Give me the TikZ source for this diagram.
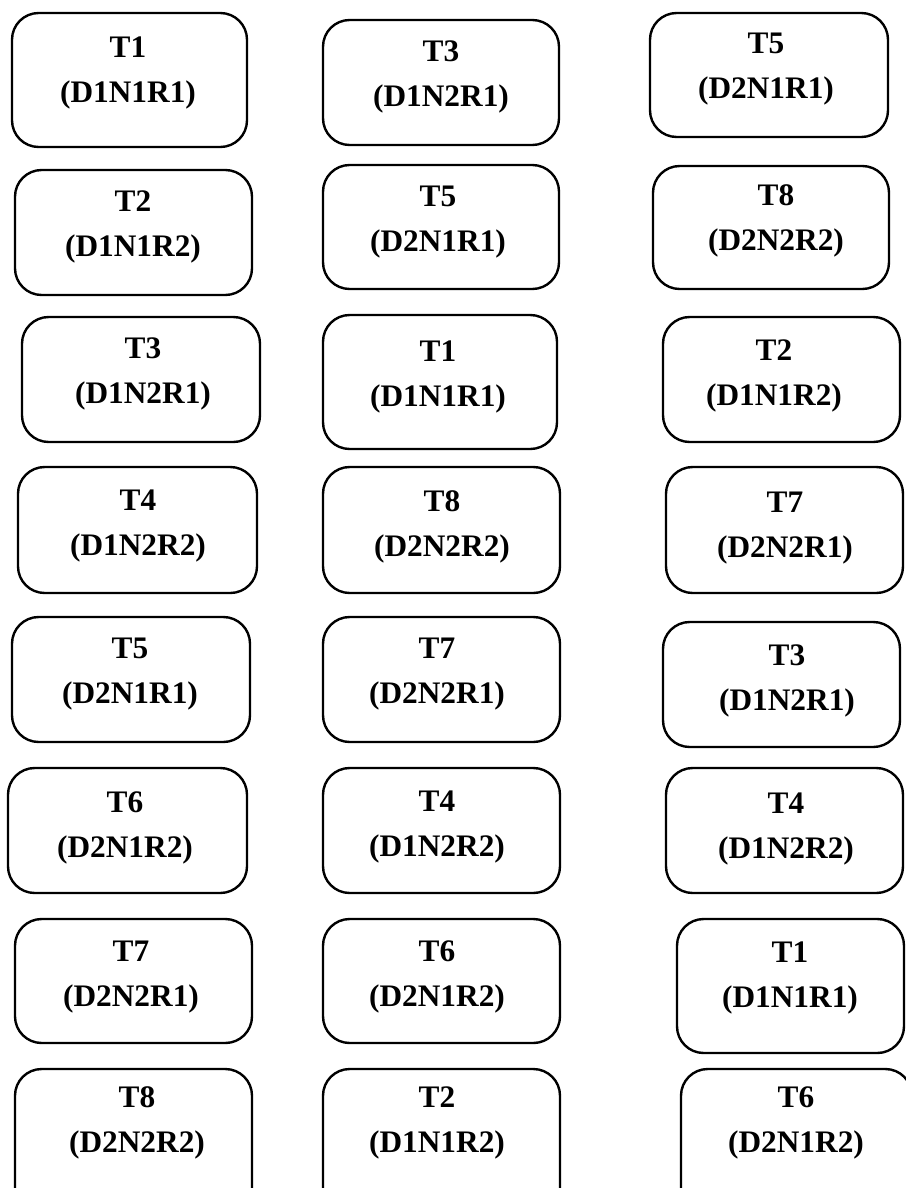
\documentclass[tikz,border=0pt]{standalone}
\usepackage{fontspec}
\setmainfont{Liberation Serif}

\tikzset{
  taskbox/.style={line width=1.8pt, rounded corners=20pt},
  tasklabel/.style={font=\fontsize{23.5}{34}\selectfont\bfseries, align=center, inner sep=0pt}
}

\begin{document}
\begin{tikzpicture}[x=0.75pt,y=-0.75pt]
    \clip (0,0) rectangle (906,1188);
    % first column
    \draw[taskbox] (12,13) rectangle (247,147); \node[tasklabel] (a1) at (128,73) {T1\\(D1N1R1)};
    \draw[taskbox] (15,170) rectangle (252,295); \node[tasklabel] (a2) at (133,227) {T2\\(D1N1R2)};
    \draw[taskbox] (22,317) rectangle (260,442); \node[tasklabel] (a3) at (143,374) {T3\\(D1N2R1)};
    \draw[taskbox] (18,467) rectangle (257,593); \node[tasklabel] (a4) at (138,526) {T4\\(D1N2R2)};
    \draw[taskbox] (12,617) rectangle (250,742); \node[tasklabel] (a5) at (130,674) {T5\\(D2N1R1)};
    \draw[taskbox] (8,768) rectangle (247,893); \node[tasklabel] (a6) at (125,828) {T6\\(D2N1R2)};
    \draw[taskbox] (15,919) rectangle (252,1043); \node[tasklabel] (a7) at (131,977) {T7\\(D2N2R1)};
    \draw[taskbox] (15,1069) rectangle (252,1215); \node[tasklabel] (a8) at (137,1123) {T8\\(D2N2R2)};
    % second column
    \draw[taskbox] (323,20) rectangle (559,145); \node[tasklabel] (b1) at (441,77) {T3\\(D1N2R1)};
    \draw[taskbox] (323,165) rectangle (559,289); \node[tasklabel] (b2) at (438,222) {T5\\(D2N1R1)};
    \draw[taskbox] (323,315) rectangle (557,449); \node[tasklabel] (b3) at (438,377) {T1\\(D1N1R1)};
    \draw[taskbox] (323,467) rectangle (560,593); \node[tasklabel] (b4) at (442,527) {T8\\(D2N2R2)};
    \draw[taskbox] (323,617) rectangle (560,742); \node[tasklabel] (b5) at (437,674) {T7\\(D2N2R1)};
    \draw[taskbox] (323,768) rectangle (560,893); \node[tasklabel] (b6) at (437,827) {T4\\(D1N2R2)};
    \draw[taskbox] (323,919) rectangle (560,1043); \node[tasklabel] (b7) at (437,977) {T6\\(D2N1R2)};
    \draw[taskbox] (323,1069) rectangle (560,1215); \node[tasklabel] (b8) at (437,1123) {T2\\(D1N1R2)};
    % third column
    \draw[taskbox] (650,13) rectangle (888,137); \node[tasklabel] (c1) at (766,69) {T5\\(D2N1R1)};
    \draw[taskbox] (653,166) rectangle (889,289); \node[tasklabel] (c2) at (776,221) {T8\\(D2N2R2)};
    \draw[taskbox] (663,317) rectangle (900,442); \node[tasklabel] (c3) at (774,376) {T2\\(D1N1R2)};
    \draw[taskbox] (666,467) rectangle (903,593); \node[tasklabel] (c4) at (785,528) {T7\\(D2N2R1)};
    \draw[taskbox] (663,622) rectangle (900,747); \node[tasklabel] (c5) at (787,681) {T3\\(D1N2R1)};
    \draw[taskbox] (666,768) rectangle (903,893); \node[tasklabel] (c6) at (786,829) {T4\\(D1N2R2)};
    \draw[taskbox] (677,919) rectangle (904,1053); \node[tasklabel] (c7) at (790,978) {T1\\(D1N1R1)};
    \draw[taskbox] (681,1069) rectangle (912,1215); \node[tasklabel] (c8) at (796,1123) {T6\\(D2N1R2)};
\end{tikzpicture}
\end{document}
